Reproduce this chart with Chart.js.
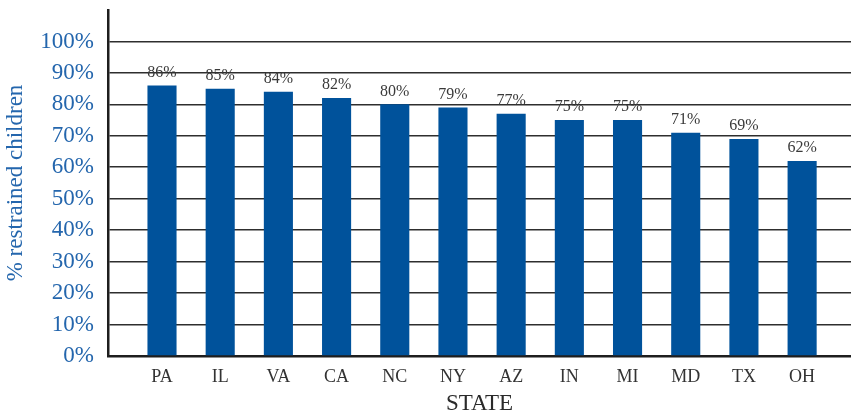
<!DOCTYPE html>
<html>
<head>
<meta charset="utf-8">
<script src="https://cdn.jsdelivr.net/npm/chart.js@4.4.1/dist/chart.umd.min.js"></script>
<style>
  html, body { margin: 0; padding: 0; background: #fff; }
  #wrap { width: 851px; height: 420px; }
</style>
</head>
<body>
<div id="wrap"><canvas id="chart"></canvas></div>
<script>
const states = ["PA", "IL", "VA", "CA", "NC", "NY", "AZ", "IN", "MI", "MD", "TX", "OH"]
const restrained = [86, 85, 84, 82, 80, 79, 77, 75, 75, 71, 69, 62]
const yTicks = [0, 10, 20, 30, 40, 50, 60, 70, 80, 90, 100]

const BLUE = "#00529b"
const LABEL_BLUE = "#2466ad"
const SERIF = "'Liberation Serif', 'DejaVu Serif', serif"

const valueLabels = {
  id: "valueLabels",
  afterDatasetsDraw(chart) {
    const ctx = chart.ctx
    const meta = chart.getDatasetMeta(0)
    ctx.save()
    ctx.font = "16px " + SERIF
    ctx.fillStyle = "#3a3a3a"
    ctx.textAlign = "center"
    ctx.textBaseline = "bottom"
    meta.data.forEach((bar, i) => {
      ctx.fillText(restrained[i] + "%", bar.x, bar.y - 5)
    })
    ctx.restore()
  }
}

new Chart(document.getElementById("chart"), {
  type: "bar",
  data: {
    datasets: [{
      data: states.map((s, i) => ({ x: i, y: restrained[i] })),
      backgroundColor: BLUE,
      barPercentage: 0.5,
      categoryPercentage: 1
    }]
  },
  options: {
    responsive: true,
    maintainAspectRatio: false,
    animation: false,
    layout: { padding: { top: 10, right: 0, left: 0, bottom: 0 } },
    plugins: { legend: { display: false }, tooltip: { enabled: false } },
    scales: {
      x: {
        type: "linear",
        offset: false,
        min: -0.928,
        max: 11.84,
        afterFit: s => { s.height = 64; s.paddingLeft = 0; s.paddingRight = 0 },
        grid: { display: false, drawTicks: false, offset: false },
        border: { display: true, color: "#1e1e1e", width: 2.5 },
        ticks: {
          stepSize: 1,
          includeBounds: false,
          autoSkip: false,
          maxRotation: 0,
          padding: 10,
          color: "#333",
          font: { family: SERIF, size: 18 },
          callback: v => Number.isInteger(v) && states[v] ? states[v] : ""
        },
        title: {
          display: true,
          text: "STATE",
          color: "#2a2a2a",
          font: { family: SERIF, size: 23 },
          padding: { top: 0, bottom: 2 }
        }
      },
      y: {
        min: 0,
        max: 110,
        afterFit: s => { s.width = 108; s.paddingTop = 0; s.paddingBottom = 0 },
        afterBuildTicks: s => { s.ticks = yTicks.concat([110]).map(v => ({ value: v })) },
        grid: {
          drawTicks: false,
          lineWidth: 1.6,
          color: c => (c.tick && c.tick.value > 100 ? "rgba(0,0,0,0)" : "#2e2e2e")
        },
        border: { display: true, color: "#1e1e1e", width: 2.5 },
        ticks: {
          padding: 14,
          color: LABEL_BLUE,
          font: { family: SERIF, size: 23 },
          callback: v => (v > 100 ? "" : v + "%")
        },
        title: {
          display: true,
          text: "% restrained children",
          color: LABEL_BLUE,
          font: { family: SERIF, size: 23 },
          padding: { top: 2, bottom: 0 }
        }
      }
    }
  },
  plugins: [valueLabels]
})
</script>
</body>
</html>
